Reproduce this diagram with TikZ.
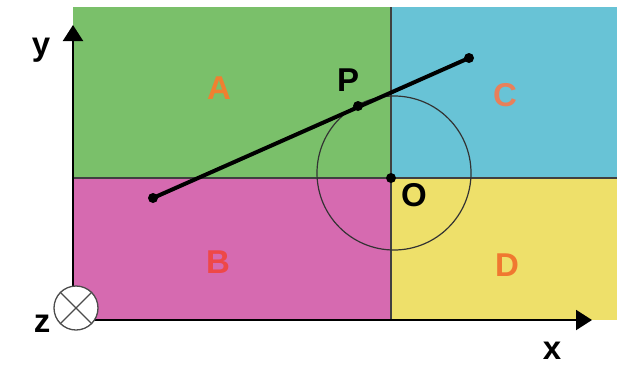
\documentclass[tikz,border=0pt]{standalone}
\usepackage{fontspec}
\setmainfont{Liberation Sans}
\usepackage{xcolor}
\usetikzlibrary{arrows.meta}
\definecolor{regA}{RGB}{122,192,106}
\definecolor{regB}{RGB}{214,106,176}
\definecolor{regC}{RGB}{104,195,214}
\definecolor{regD}{RGB}{238,224,106}
\definecolor{txtA}{RGB}{240,128,48}
\definecolor{txtB}{RGB}{238,72,72}
\definecolor{txtC}{RGB}{232,128,90}
\definecolor{txtD}{RGB}{240,120,48}
\tikzset{
  divider/.style={draw=black!75, line width=1.3pt},
  lbl/.style={font=\bfseries\fontsize{33}{33}\selectfont, inner sep=0pt},
  dot/.style={circle, fill=black, inner sep=0pt, minimum size=10pt},
  axis/.style={-{Triangle[length=16pt,width=20pt]}, line width=2pt, draw=black},
  seg/.style={line width=4pt, draw=black},
}

\begin{document}
\begin{tikzpicture}[x=1pt,y=-1pt]
  \useasboundingbox (0,0) rectangle (617,367);
  % coloured regions
  \fill[regA] (73,7) rectangle (391,178);
  \fill[regC] (391,7) rectangle (617,178);
  \fill[regB] (73,178) rectangle (391,320);
  \fill[regD] (391,178) rectangle (617,320);
  \coordinate (vtop) at (391,7);
  \coordinate (vbot) at (391,320);
  \coordinate (hleft) at (73,178);
  \coordinate (hright) at (617,178);
  \draw[divider] (vtop) -- (vbot);
  \draw[divider] (hleft) -- (hright);

  % axes
  \coordinate (orig) at (73,320);
  \coordinate (xend) at (592,320);
  \coordinate (yend) at (73,25);
  \draw[axis] (orig) -- (xend);
  \draw[axis] (orig) -- (yend);
  \node[lbl] (xlbl) at (552,351) {x};
  \node[lbl] (ylbl) at (41,50) {y};
  \node[circle, draw=black!70, fill=white, minimum size=44pt, line width=1.3pt] (zax) at (76,308) {};
  \draw[black!70, line width=1.3pt] (zax.north west) -- (zax.south east);
  \draw[black!70, line width=1.3pt] (zax.north east) -- (zax.south west);
  \node[lbl] (zlbl) at (42,324) {z};

  % circle and segment
  \draw[black!80, line width=1.2pt] (394,173) circle (77);
  \node[dot] (o) at (391,178) {};
  \node[dot] (e1) at (153,198) {};
  \node[dot] (e2) at (469,58) {};
  \draw[seg] (e1.center) -- (e2.center);
  \node[dot] (p) at (358,106) {};
  \node[lbl] (plbl) at (348,80) {P};
  \node[lbl] (olbl) at (414,195) {O};

  % region names
  \node[lbl, text=txtA] (la) at (219,88) {A};
  \node[lbl, text=txtC] (lc) at (505,95) {C};
  \node[lbl, text=txtB] (lb) at (218,262) {B};
  \node[lbl, text=txtD] (ld) at (507,265) {D};
\end{tikzpicture}
\end{document}
